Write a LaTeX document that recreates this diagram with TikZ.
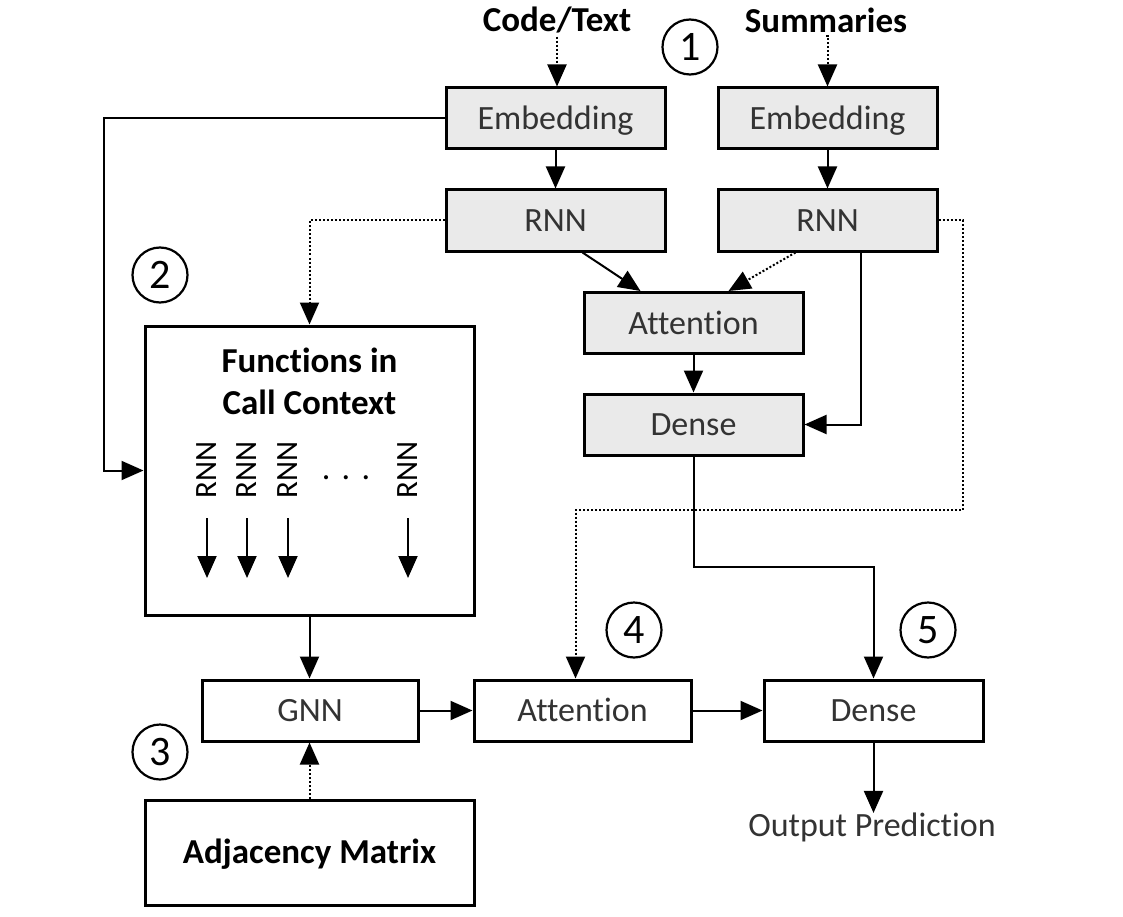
\documentclass[tikz,border=0pt]{standalone}
\usepackage{fontspec}
\setmainfont[Ligatures={NoCommon}]{Carlito}
\usetikzlibrary{arrows.meta}
\definecolor{boxgray}{RGB}{234,234,234}

\begin{document}
\begin{tikzpicture}[x=1pt,y=-1pt,
  every node/.style={font=\fontsize{34}{40}\selectfont,text=black!80},
  gbox/.style={draw=black,line width=3pt,fill=boxgray,minimum width=219pt,minimum height=61pt,inner sep=0pt,text height=26pt,text depth=4pt},
  wbox/.style={draw=black,line width=3pt,minimum width=217pt,minimum height=61pt,inner sep=0pt,text height=26pt,text depth=4pt},
  num/.style={draw=black,circle,line width=2.2pt,minimum size=55pt,inner sep=0pt,text=black,font=\fontsize{42}{44}\selectfont},
  ttl/.style={text=black,font=\fontsize{35}{42}\selectfont\bfseries},
  arr/.style={line width=2pt,-{Triangle[length=22pt,width=19pt]}},
  darr/.style={arr,dash pattern=on 2pt off 2pt}]
  \useasboundingbox (0,0) rectangle (1123,917);
  \path (557,20) node[ttl] (code) {Code/Text} (826,20) node[ttl] (summ) {Summaries}
  (555.5,118.5) node[gbox] (emb1) {Embedding} (827.5,118.5) node[gbox] (emb2) {Embedding}
  (555.5,220.5) node[gbox] (rnn1) {RNN} (827.5,220.5) node[gbox] (rnn2) {RNN}
  (693.5,323) node[gbox] (att1) {Attention} (693.5,424.5) node[gbox] (dense1) {Dense};
  \path (309.5,470.5) node[wbox,minimum width=329pt,minimum height=289pt] (ctx) {}
  (309.5,381) node[ttl,align=center] (ctxt) {Functions in\\Call Context}
  (310,710.5) node[wbox,minimum width=216pt] (gnn) {GNN}
  (582.5,710.5) node[wbox] (att2) {Attention} (873.5,710.5) node[wbox,minimum width=219pt] (dense2) {Dense}
  (309.5,852.5) node[wbox,minimum width=329pt,minimum height=105pt,ttl] (adj) {Adjacency Matrix}
  (872,827) node (out) {Output Prediction};
  \path (690,47) node[num] (n1) {1} (160,275) node[num] (n2) {2} (160,752) node[num] (n3) {3}
  (634,630) node[num] (n4) {4} (928,630) node[num] (n5) {5};
  \foreach \x/\n in {207/a,247/b,288/c,408/d} {
    \node[rotate=90,text=black,font=\fontsize{31}{33}\selectfont] (r\n) at (\x,470) {RNN};
    \coordinate (t\n) at (\x,518);
    \draw[arr] (t\n) -- ++(0,60);
  }
  \node[text=black] (dots) at (346,478) {.\,\,.\,\,.};
  \coordinate (k1) at (104,118.5);
  \coordinate (k2) at (963,220.5);
  \coordinate (k3) at (963,510);
  \coordinate (k4) at (693.5,567);
  \draw[darr] (code.south) -- (code.south |- emb1.north);
  \draw[darr] (summ.south) -- (summ.south -| emb2.north) -- (emb2.north);
  \draw[arr] (emb1) -- (rnn1);
  \draw[arr] (emb2) -- (rnn2);
  \draw[arr] (emb1.west) -- (k1) |- (ctx.west);
  \draw[darr] (rnn1.west) -| (ctx.north);
  \draw[arr] ([xshift=27pt]rnn1.south) -- ([xshift=-53pt]att1.north);
  \draw[darr] ([xshift=-32pt]rnn2.south) -- ([xshift=35pt]att1.north);
  \draw[arr] ([xshift=33pt]rnn2.south) |- (dense1.east);
  \draw[arr] (att1) -- (dense1);
  \draw[darr] (rnn2.east) -- (k2) -- (k3) -| ([xshift=-7pt]att2.north);
  \draw[arr] (dense1.south) -- (k4) -| (dense2.north);
  \draw[arr] (ctx.south) -- (ctx.south |- gnn.north);
  \draw[darr] (adj.north) -- (adj.north |- gnn.south);
  \draw[arr] (gnn) -- (att2);
  \draw[arr] (att2) -- (dense2);
  \draw[arr] (dense2.south) -- ([yshift=-4pt]out.north -| dense2.south);
\end{tikzpicture}
\end{document}
